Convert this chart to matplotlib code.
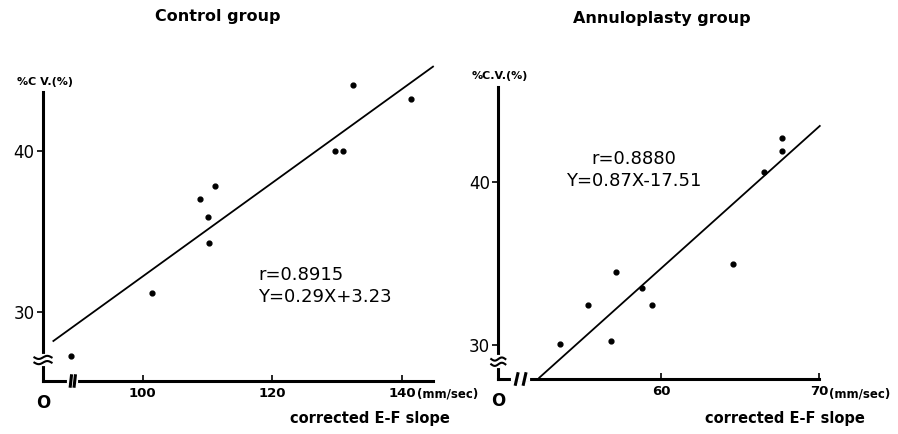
import numpy as np
import matplotlib
matplotlib.use('Agg')
import matplotlib.pyplot as plt

plt.rcParams['font.family'] = 'DejaVu Sans'

# control group: corrected E-F slope (mm/sec) vs %C.V.
ctrl_x = [88.9, 101.4, 108.8, 111.2, 110.05, 110.3, 129.7, 130.9, 132.5, 141.4]
ctrl_y = [27.3, 31.2, 37.05, 37.8, 35.9, 34.3, 40.0, 40.0, 44.07, 43.2]
ctrl_slope, ctrl_icpt = 0.29, 3.23
ctrl_r = 0.8915
ctrl_fit_x = [86.2, 144.8]

# annuloplasty group
ann_x = [53.62, 55.37, 56.86, 57.14, 58.78, 59.41, 64.53, 66.52, 67.62, 67.66]
ann_y = [30.04, 32.43, 30.26, 34.45, 33.49, 32.47, 34.96, 40.58, 42.69, 41.9]
ann_slope, ann_icpt = 0.87, -17.51
ann_r = 0.8880
ann_fit_x = [52.31, 70.03]

ctrl_xticks = [100, 120, 140]
ann_xticks = [60, 70]
yticks = [30, 40]

W, H = 898, 434
fig = plt.figure(figsize=(W / 100, H / 100), dpi=100)


def px_axes(x0, y0, x1, y1):
    # axes placed by pixel box (left, top, right, bottom)
    return fig.add_axes([x0 / W, 1 - y1 / H, (x1 - x0) / W, (y1 - y0) / H])


def ftext(x, y, s, **kw):
    # text at pixel position, measured from the top-left corner
    return fig.text(x / W, 1 - y / H, s, **kw)


def wavy_break(ax, yb, amp):
    tr = ax.get_yaxis_transform()
    t = np.linspace(-0.022, 0.022, 30)
    ax.plot([0, 0], [yb - amp * 1.6, yb + amp * 1.6], color='white', lw=3,
            transform=tr, clip_on=False, zorder=5)
    for off in (-amp, amp):
        ax.plot(t, yb + off + amp * 0.6 * np.sin(t / 0.022 * np.pi),
                color='black', lw=1.5, transform=tr, clip_on=False, zorder=6)


def slash_break(ax, xb, dx):
    tr = ax.get_xaxis_transform()
    ax.plot([xb - dx * 1.8, xb + dx * 1.8], [0, 0], color='white', lw=3,
            transform=tr, clip_on=False, zorder=5)
    for off in (-dx, dx):
        ax.plot([xb + off - dx * 0.3, xb + off + dx * 0.3], [-0.018, 0.018],
                color='black', lw=2.2, transform=tr, clip_on=False, zorder=6)


def panel(ax, xs, ys, slope, icpt, fit_x, r, xticks, xlim, ylim, xb, yb, dx):
    ax.set_xlim(*xlim)
    ax.set_ylim(*ylim)
    for s in ('top', 'right'):
        ax.spines[s].set_visible(False)
    for s in ('left', 'bottom'):
        ax.spines[s].set_linewidth(2.2)
    ax.set_xticks(xticks)
    ax.set_yticks(yticks)
    ax.tick_params(axis='x', direction='in', length=4, width=1.2, pad=4,
                   labelsize=9.5)
    ax.tick_params(axis='y', direction='out', length=4, width=1.2, pad=2,
                   labelsize=12)
    for lab in ax.get_xticklabels():
        lab.set_fontweight('bold')

    ax.scatter(xs, ys, s=12, color='black', zorder=4, clip_on=False)
    fx = np.array(fit_x)
    ax.plot(fx, slope * fx + icpt, color='black', lw=1.3, clip_on=False)

    wavy_break(ax, yb, (ylim[1] - ylim[0]) * 0.009)
    slash_break(ax, xb, dx)
    ax.text(0, -0.045, 'O', transform=ax.transAxes, ha='center', va='top',
            fontsize=12, fontweight='bold')
    ax.text(0.005, 1.035, '%C V.(%)' if xticks[0] == 100 else '%C.V.(%)',
            transform=ax.transAxes, ha='center', va='center', fontsize=8,
            fontweight='bold')


def stats_text(r, slope, icpt):
    sign = '+' if icpt >= 0 else '-'
    return 'r=%.4f\nY=%.2fX%s%.2f' % (r, slope, sign, abs(icpt))


ax1 = px_axes(43, 92, 433, 381)
panel(ax1, ctrl_x, ctrl_y, ctrl_slope, ctrl_icpt, ctrl_fit_x, ctrl_r,
      ctrl_xticks, (84.6, 144.8), (25.75, 43.65), 89.2, 27.05, 0.3)

ax2 = px_axes(498.3, 86.7, 819.3, 379)
panel(ax2, ann_x, ann_y, ann_slope, ann_icpt, ann_fit_x, ann_r,
      ann_xticks, (49.72, 70), (27.92, 45.82), 51.13, 28.98, 0.25)

# titles
ftext(218, 17, 'Control group', fontsize=11.5, fontweight='bold',
      ha='center', va='center')
ftext(662, 19, 'Annuloplasty group', fontsize=11.5, fontweight='bold',
      ha='center', va='center')

# regression statistics
ftext(258, 266, stats_text(ctrl_r, ctrl_slope, ctrl_icpt), fontsize=13,
      ha='left', va='top', linespacing=1.25)
ftext(634, 150, stats_text(ann_r, ann_slope, ann_icpt), fontsize=13,
      ha='center', va='top', linespacing=1.25, multialignment='center')

# axis units and titles
ftext(417, 394, '(mm/sec)', fontsize=8.5, fontweight='bold', ha='left',
      va='center')
ftext(829, 394, '(mm/sec)', fontsize=8.5, fontweight='bold', ha='left',
      va='center')
ftext(450, 418, 'corrected E-F slope', fontsize=10.5, fontweight='bold',
      ha='right', va='center')
ftext(865, 418, 'corrected E-F slope', fontsize=10.5, fontweight='bold',
      ha='right', va='center')

fig.savefig('out.png', dpi=100)
